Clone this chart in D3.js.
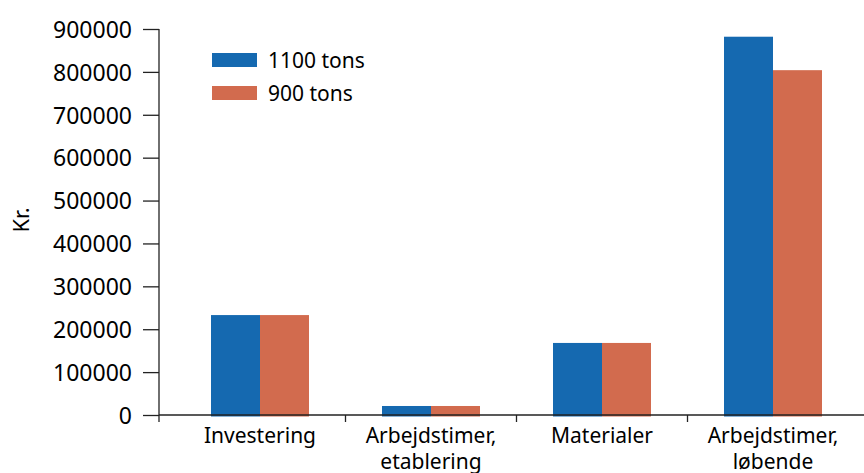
<!DOCTYPE html>
<html><head><meta charset="utf-8">
<script src="https://cdn.jsdelivr.net/npm/d3@7"></script>
<style>body{margin:0;background:#fff}svg{display:block}text{font-family:"Noto Sans",sans-serif;fill:#000}</style>
</head><body>
<script>
const categories = [["Investering"], ["Arbejdstimer,", "etablering"], ["Materialer"], ["Arbejdstimer,", "løbende"]];
const seriesNames = ["1100 tons", "900 tons"];
const values1100 = [233000, 21000, 168000, 882000];
const values900 = [233000, 21000, 168000, 804000];
const yTicks = [0, 100000, 200000, 300000, 400000, 500000, 600000, 700000, 800000, 900000];
const colors = ["#1569b0", "#d26b4e"];

const W = 864, H = 473;
const svg = d3.select("body").append("svg").attr("width", W).attr("height", H);
const y = d3.scaleLinear().domain([0, 900000]).range([415, 29]);
const x = d3.scaleBand().domain(d3.range(categories.length)).range([174.5, 858.5]).paddingInner(0.427).paddingOuter(0.2135);
const xs = d3.scaleBand().domain([0, 1]).range([0, x.bandwidth()]);
const axisX = 159;

// y axis
const yAxis = d3.axisLeft(y).tickValues(yTicks).tickSize(16).tickPadding(11).tickFormat(d3.format("d"));
const gy = svg.append("g").attr("transform", `translate(${axisX},0)`).call(yAxis);
gy.select(".domain").remove();
gy.selectAll(".tick line").attr("stroke", "#222").attr("stroke-width", 1.3);
gy.selectAll(".tick text").style("font-size", "23px").attr("dy", "0.36em");
svg.append("line").attr("x1", axisX).attr("x2", axisX).attr("y1", y(900000)).attr("y2", 422).attr("stroke", "#222").attr("stroke-width", 1.3);

// bars
const series = [values1100, values900];
series.forEach((vals, s) => {
  svg.append("g").selectAll("rect").data(vals).join("rect")
    .attr("x", (d, i) => x(i) + xs(s))
    .attr("width", xs.bandwidth())
    .attr("y", d => y(d))
    .attr("height", d => y(0) - y(d) + 1.5)
    .attr("fill", colors[s]);
});

// x axis line
svg.append("line").attr("x1", axisX).attr("x2", W).attr("y1", y(0)).attr("y2", y(0)).attr("stroke", "#222").attr("stroke-width", 1.3);
// category boundary ticks
const step = x.step();
categories.slice(1).forEach((c, i) => {
  const tx = x(i + 1) - step * x.paddingInner() / 2;
  svg.append("line").attr("x1", tx).attr("x2", tx).attr("y1", y(0)).attr("y2", y(0) + 7).attr("stroke", "#222").attr("stroke-width", 1.3);
});
// category labels
categories.forEach((lines, i) => {
  const t = svg.append("text").attr("text-anchor", "middle").style("font-size", "21px")
    .attr("x", x(i) + x.bandwidth() / 2).attr("y", 443);
  lines.forEach((l, j) => t.append("tspan").attr("x", x(i) + x.bandwidth() / 2).attr("dy", j ? 26 : 0).text(l));
});

// y title
svg.append("text").attr("transform", "translate(29,220) rotate(-90)").attr("text-anchor", "middle").style("font-size", "22px").text("Kr.");

// legend
seriesNames.forEach((n, i) => {
  const ly = 60 + i * 33;
  svg.append("rect").attr("x", 212).attr("y", ly - 7).attr("width", 45).attr("height", 14).attr("fill", colors[i]);
  svg.append("text").attr("x", 268).attr("y", ly).attr("dy", "0.36em").style("font-size", "21px").text(n);
});
</script>
</body></html>
